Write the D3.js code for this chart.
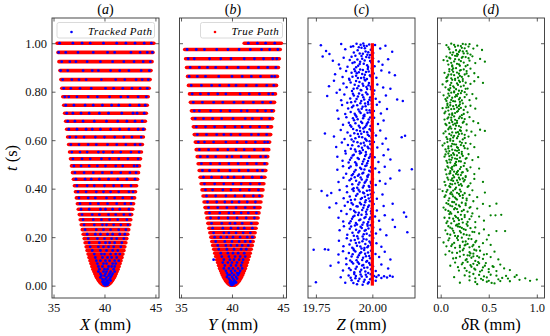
<!DOCTYPE html>
<html>
<head>
<meta charset="utf-8">
<script src="https://cdn.jsdelivr.net/npm/d3@7"></script>
<style>
body { margin: 0; background: #fff; }
svg text { font-family: "Liberation Serif", "Times New Roman", Times, serif; }
</style>
</head>
<body>
<div id="chart"></div>
<script>

// ---- data ----

var tTicks = [0, 0.2, 0.4, 0.6, 0.8, 1.0];
var xyTicks = [35, 40, 45];
var zTicks = [19.75, 20.00];
var dTicks = [0.0, 0.5, 1.0];

// (a) true path: one red stroke per turn of the spiral (t, X min, X max)
var aBandT = [1.000,.962,.924,.887,.850,.814,.779,.744,.711,.678,.645,.613,.582,.551,.523,.494,.466,.439,.412,.387,
	.362,.338,.315,.293,.272,.251,.231,.212,.194,.177,.160,.145,.130,.116,.103,.091,.079,.068,.058,.049,
	.041,.034,.027,.021,.016,.012,.008,.004,.001];
var aBandLo = [35.35,35.44,35.53,35.63,35.72,35.81,35.91,36.00,36.09,36.19,36.29,36.38,36.48,36.57,36.66,36.76,36.86,36.95,37.05,37.15,
	37.24,37.34,37.43,37.53,37.62,37.72,37.82,37.91,38.01,38.10,38.20,38.29,38.39,38.48,38.58,38.67,38.76,38.86,38.96,39.05,
	39.14,39.22,39.32,39.41,39.50,39.58,39.68,39.80,39.95];
var aBandHi = [44.85,44.76,44.67,44.57,44.48,44.39,44.29,44.20,44.11,44.01,43.91,43.82,43.72,43.63,43.54,43.44,43.34,43.25,43.15,43.05,
	42.96,42.86,42.77,42.67,42.58,42.48,42.38,42.29,42.19,42.10,42.00,41.91,41.81,41.72,41.62,41.53,41.44,41.34,41.24,41.15,
	41.06,40.98,40.88,40.79,40.70,40.62,40.52,40.40,40.25];
// (a) tracked points, X values sitting on each turn
var aBlueX = [
	[35.6,36.9,37.8,38.6,39.9,41.2,42.1,43.0,43.9,44.6],
	[35.5,36.2,37.4,38.9,40.3,41.0,42.6,43.5,44.2,44.7],
	[35.8,36.6,37.2,38.3,39.6,40.8,41.9,42.9,43.8,44.5],
	[35.7,36.4,37.9,38.8,39.4,40.6,41.5,42.4,43.6,44.4],
	[35.9,36.8,37.5,38.2,39.7,41.1,42.0,43.1,43.7,44.3],
	[36.0,36.7,37.6,38.7,40.1,40.9,41.8,42.7,43.5,44.2],
	[36.1,36.5,37.3,38.4,39.3,40.5,41.6,42.3,43.3,44.1],
	[36.2,37.0,38.1,38.9,39.8,40.7,41.4,42.5,43.4,44.0],
	[36.3,36.9,37.7,38.5,39.5,40.4,41.7,42.8,43.2,43.9],
	[36.4,37.1,37.9,39.0,40.2,41.3,42.2,43.0,43.7],
	[36.5,37.3,38.2,38.8,39.6,40.6,41.5,42.4,43.3,43.8],
	[36.6,37.2,38.0,39.1,40.0,41.0,41.9,42.7,43.6],
	[36.7,37.5,38.4,39.2,40.3,41.2,42.1,43.0,43.5],
	[36.8,37.6,38.3,39.4,39.9,40.8,41.6,42.6,43.4],
	[36.9,37.8,38.6,39.7,40.5,41.4,42.3,43.3],
	[37.0,37.7,38.5,39.3,40.1,41.1,41.8,42.9,43.2],
	[37.1,38.0,38.9,39.8,40.7,41.6,42.5,43.1],
	[37.2,38.1,38.7,39.5,40.4,41.3,42.2,43.0],
	[37.3,38.3,39.0,40.0,40.9,41.7,42.6],
	[37.4,38.2,39.2,39.9,40.6,41.4,42.4,42.8],
	[37.5,38.4,39.1,40.2,41.0,41.8,42.7],
	[37.6,38.6,39.4,40.3,41.2,42.0,42.6],
	[37.7,38.5,39.6,40.1,40.8,41.5,42.4],
	[37.8,38.8,39.5,40.4,41.1,41.9,42.5],
	[37.9,38.9,39.7,40.5,41.3,42.2],
	[38.0,39.0,39.8,40.2,40.9,41.6,42.3],
	[38.1,39.2,39.9,40.6,41.4,42.1],
	[38.3,39.1,39.6,40.3,40.8,41.5,42.0],
	[38.4,39.3,40.0,40.7,41.2,41.9],
	[38.5,39.5,40.1,40.5,41.0,41.7],
	[38.6,39.4,39.9,40.4,40.9,41.6],
	[38.8,39.6,40.2,40.8,41.3],
	[39.0,39.7,40.0,40.6,41.1,41.5],
	[39.1,39.8,40.3,40.7,41.2],
	[39.2,39.6,40.1,40.5,41.0,41.4],
	[39.3,39.9,40.2,40.8,41.1],
	[39.4,39.8,40.4,40.7,41.0],
	[39.5,40.0,40.3,40.9],
	[39.4,39.9,40.2,40.6,41.0],
	[39.6,40.1,40.5,40.8],
	[39.7,40.0,40.4,40.7],
	[39.6,40.2,40.6],
	[39.8,40.1,40.5],
	[39.9,40.3,40.6],
	[39.8,40.2],
	[40.0,40.4],
	[39.9,40.2],
	[40.0,40.3],
	[40.1]
];

// (b) true path (t, Y min, Y max); the top stroke is only a partial turn
var bBandT = [1.000,.974,.936,.900,.863,.826,.791,.756,.721,.689,.655,.623,.592,.561,.532,.503,.475,.447,.420,.395,.370,
	.345,.322,.300,.279,.257,.237,.218,.200,.182,.166,.150,.134,.120,.107,.095,.083,.071,.061,.052,.044,
	.036,.029,.023,.018,.013,.009,.005,.002];
var bBandLo = [41.20,35.36,35.45,35.54,35.64,35.73,35.83,35.92,36.02,36.11,36.21,36.30,36.40,36.49,36.59,36.68,36.78,36.87,36.97,37.06,37.16,
	37.26,37.35,37.45,37.54,37.64,37.74,37.83,37.93,38.02,38.11,38.21,38.31,38.40,38.50,38.59,38.68,38.78,38.88,38.97,39.05,
	39.15,39.24,39.33,39.41,39.51,39.60,39.71,39.84];
var bBandHi = [44.85,44.74,44.65,44.56,44.46,44.37,44.27,44.18,44.08,43.99,43.89,43.80,43.70,43.61,43.51,43.42,43.32,43.23,43.13,43.04,42.94,
	42.84,42.75,42.65,42.56,42.46,42.36,42.27,42.17,42.08,41.99,41.89,41.79,41.70,41.60,41.51,41.42,41.32,41.22,41.13,41.05,
	40.95,40.86,40.77,40.69,40.59,40.50,40.39,40.26];
var bBlueX = [
	[41.6,42.5,43.3,44.2],
	[35.6,36.5,37.3,38.5,39.6,40.7,41.8,42.9,43.7,44.5],
	[35.7,36.3,37.8,38.9,39.9,41.2,42.2,43.1,44.0,44.4],
	[35.9,36.8,37.6,38.4,39.5,40.6,41.6,42.6,43.5,44.3],
	[35.8,36.6,37.4,38.7,40.0,41.0,41.9,42.8,43.9,44.2],
	[36.0,37.0,38.0,38.8,39.7,40.4,41.4,42.4,43.4,44.1],
	[36.1,36.9,37.7,38.6,39.4,40.8,41.7,42.7,43.6,44.0],
	[36.2,37.1,38.2,39.1,40.2,41.1,42.1,43.0,43.8],
	[36.3,36.8,37.9,38.9,39.8,40.9,41.5,42.5,43.3,43.9],
	[36.4,37.2,38.1,39.0,40.1,41.3,42.0,42.9,43.7],
	[36.5,37.4,38.3,39.3,40.3,41.0,41.8,42.7,43.5],
	[36.6,37.5,38.5,39.2,39.9,40.8,41.9,42.6,43.4],
	[36.7,37.3,38.2,39.4,40.5,41.4,42.3,43.2,43.5],
	[36.8,37.7,38.6,39.6,40.4,41.2,42.2,43.1],
	[36.9,37.6,38.4,39.5,40.0,40.9,41.7,42.8,43.3],
	[37.0,37.9,38.8,39.7,40.6,41.5,42.4,43.2],
	[37.1,37.8,38.7,39.8,40.7,41.6,42.5,43.0],
	[37.2,38.0,39.0,39.6,40.2,41.1,42.0,42.9],
	[37.3,38.3,39.2,40.1,40.9,41.8,42.7],
	[37.4,38.1,39.1,39.9,40.8,41.7,42.6],
	[37.5,38.4,39.4,40.3,41.2,42.1,42.7],
	[37.6,38.5,39.3,40.0,40.7,41.5,42.3],
	[37.7,38.6,39.5,40.4,41.3,42.2],
	[37.8,38.8,39.7,40.2,40.9,41.6,42.4],
	[37.9,38.7,39.6,40.5,41.4,42.2],
	[38.0,39.0,39.8,40.3,41.0,41.9],
	[38.1,39.1,39.9,40.6,41.2,42.0],
	[38.2,39.2,39.7,40.4,41.1,41.8],
	[38.3,38.9,39.5,40.1,40.8,41.5,42.0],
	[38.4,39.3,40.0,40.7,41.3,41.8],
	[38.6,39.4,39.9,40.5,41.0,41.6],
	[38.7,39.5,40.2,40.9,41.4],
	[38.9,39.6,40.1,40.6,41.2],
	[39.0,39.7,40.3,40.8,41.3],
	[38.2,39.2,39.8,40.2,40.7,41.1],
	[39.1,39.6,40.0,40.5,41.0],
	[39.3,39.9,40.4,40.9],
	[39.2,39.7,40.1,40.6,41.0],
	[39.4,39.9,40.3,40.8],
	[39.5,40.0,40.5,40.7],
	[39.6,39.8,40.2,40.6],
	[39.5,40.0,40.4],
	[39.7,40.1,40.5],
	[39.8,40.2],
	[39.9,40.3],
	[39.8,40.1,40.4],
	[40.0,40.2],
	[39.9,40.1],
	[40.0]
];

// (c) true Z is constant, tracked Z scatter as [Z, t]
var cTrueZ = [20.0, 20.0];
var cTrueT = [0.0, 1.0];
var cPts = [
	[19.772,0.992],[19.795,0.968],[19.81,0.955],[19.862,0.997],[19.88,0.975],[19.905,0.985],[19.918,0.962],[19.93,0.998],[19.944,0.958],[19.952,0.981],[19.963,0.99],[19.97,0.966],[19.978,0.952],[19.986,0.995],[19.993,0.973],[19.999,0.984],[20.004,0.96],[20.012,0.993],[20.035,0.978],[20.058,0.99],[20.088,0.965],
	[19.78,0.945],[19.825,0.928],[19.852,0.912],[19.873,0.94],[19.89,0.903],[19.9,0.931],[19.912,0.918],[19.925,0.948],[19.937,0.907],[19.946,0.924],[19.955,0.936],[19.962,0.915],[19.973,0.943],[19.981,0.902],[19.99,0.927],[19.997,0.918],[20.003,0.938],[20.01,0.905],[20.028,0.925],[20.045,0.911],[20.07,0.934],
	[19.835,0.872],[19.858,0.896],[19.868,0.861],[19.884,0.885],[19.897,0.853],[19.908,0.878],[19.92,0.893],[19.928,0.866],[19.94,0.88],[19.95,0.857],[19.958,0.889],[19.967,0.87],[19.976,0.852],[19.984,0.883],[19.992,0.864],[19.998,0.897],[20.006,0.875],[20.018,0.858],[20.04,0.887],[20.075,0.879],[20.1,0.868],
	[19.808,0.822],[19.83,0.845],[19.856,0.808],[19.872,0.834],[19.886,0.818],[19.899,0.848],[19.91,0.803],[19.922,0.829],[19.933,0.814],[19.943,0.84],[19.951,0.806],[19.96,0.825],[19.969,0.846],[19.977,0.811],[19.985,0.836],[19.993,0.82],[20.0,0.842],[20.009,0.805],[20.022,0.83],[20.048,0.817],[20.08,0.812],
	[19.8,0.782],[19.842,0.796],[19.862,0.765],[19.876,0.788],[19.889,0.754],[19.902,0.772],[19.914,0.792],[19.924,0.76],[19.936,0.78],[19.947,0.752],[19.956,0.786],[19.964,0.768],[19.972,0.797],[19.981,0.757],[19.99,0.776],[19.996,0.763],[20.005,0.79],[20.015,0.771],[20.032,0.758],[20.06,0.784],[20.11,0.768],[20.135,0.762],
	[19.845,0.722],[19.866,0.745],[19.88,0.708],[19.893,0.731],[19.904,0.716],[19.916,0.742],[19.926,0.703],[19.938,0.727],[19.948,0.712],[19.957,0.738],[19.965,0.705],[19.974,0.724],[19.982,0.748],[19.991,0.714],[19.998,0.735],[20.007,0.72],[20.02,0.746],[20.038,0.71],[20.065,0.729],
	[19.85,0.688],[19.87,0.664],[19.885,0.695],[19.896,0.672],[19.907,0.655],[19.919,0.682],[19.93,0.697],[19.94,0.66],[19.95,0.676],[19.959,0.69],[19.967,0.653],[19.976,0.668],[19.984,0.685],[19.992,0.658],[19.999,0.678],[20.008,0.693],[20.025,0.667],[20.05,0.681],
	[19.79,0.628],[19.83,0.615],[19.86,0.642],[19.877,0.605],[19.89,0.632],[19.903,0.618],[19.915,0.646],[19.925,0.608],[19.936,0.625],[19.946,0.638],[19.955,0.612],[19.963,0.635],[19.972,0.602],[19.98,0.622],[19.988,0.645],[19.996,0.61],[20.004,0.63],[20.016,0.619],[20.035,0.64],[20.06,0.607],[20.13,0.612],[20.145,0.618],
	[19.84,0.572],[19.865,0.59],[19.88,0.555],[19.892,0.58],[19.905,0.565],[19.917,0.595],[19.927,0.553],[19.939,0.575],[19.949,0.586],[19.958,0.56],[19.966,0.578],[19.975,0.598],[19.983,0.567],[19.991,0.583],[19.998,0.557],[20.007,0.592],[20.022,0.57],[20.045,0.585],[20.07,0.562],
	[19.845,0.532],[19.868,0.515],[19.882,0.545],[19.895,0.508],[19.907,0.528],[19.918,0.54],[19.929,0.503],[19.94,0.522],[19.95,0.548],[19.959,0.512],[19.968,0.535],[19.977,0.505],[19.985,0.526],[19.993,0.542],[20.0,0.518],[20.01,0.53],[20.027,0.51],[20.05,0.538],[20.08,0.52],
	[19.845,0.478],[19.87,0.492],[19.884,0.462],[19.897,0.485],[19.909,0.455],[19.92,0.47],[19.93,0.497],[19.941,0.458],[19.951,0.481],[19.96,0.466],[19.969,0.494],[19.978,0.452],[19.986,0.474],[19.994,0.488],[20.002,0.46],[20.013,0.483],[20.03,0.468],[20.055,0.49],[20.12,0.475],[20.175,0.48],
	[19.85,0.428],[19.872,0.445],[19.887,0.41],[19.899,0.435],[19.911,0.418],[19.922,0.447],[19.933,0.404],[19.943,0.425],[19.953,0.438],[19.962,0.412],[19.97,0.43],[19.979,0.448],[19.987,0.407],[19.995,0.422],[20.003,0.44],[20.015,0.415],[20.033,0.432],[20.058,0.42],[20.08,0.442],
	[19.775,0.39],[19.8,0.372],[19.818,0.382],[19.855,0.395],[19.873,0.36],[19.888,0.385],[19.9,0.368],[19.912,0.398],[19.923,0.355],[19.934,0.378],[19.944,0.388],[19.954,0.362],[19.963,0.381],[19.971,0.352],[19.98,0.374],[19.988,0.393],[19.996,0.365],[20.005,0.384],[20.02,0.358],[20.045,0.376],
	[19.81,0.322],[19.84,0.34],[19.862,0.308],[19.878,0.33],[19.891,0.345],[19.903,0.315],[19.914,0.335],[19.925,0.303],[19.935,0.326],[19.945,0.342],[19.955,0.312],[19.964,0.332],[19.972,0.305],[19.981,0.324],[19.989,0.348],[19.997,0.318],[20.006,0.337],[20.02,0.31],[20.05,0.328],[20.09,0.338],[20.14,0.302],
	[19.85,0.28],[19.871,0.265],[19.886,0.295],[19.898,0.257],[19.91,0.276],[19.921,0.288],[19.932,0.252],[19.942,0.27],[19.952,0.292],[19.961,0.26],[19.97,0.283],[19.978,0.254],[19.987,0.274],[19.995,0.298],[20.003,0.262],[20.012,0.285],[20.03,0.268],[20.055,0.29],[20.09,0.272],[20.15,0.284],
	[19.855,0.228],[19.874,0.245],[19.889,0.21],[19.9,0.235],[19.912,0.218],[19.923,0.248],[19.933,0.204],[19.943,0.225],[19.953,0.238],[19.962,0.212],[19.971,0.23],[19.979,0.247],[19.988,0.207],[19.996,0.222],[20.004,0.24],[20.016,0.215],[20.035,0.232],[20.062,0.208],[20.1,0.242],[20.155,0.22],
	[19.74,0.148],[19.79,0.15],[19.805,0.148],[19.852,0.185],[19.872,0.162],[19.887,0.195],[19.899,0.17],[19.911,0.156],[19.922,0.188],[19.932,0.165],[19.942,0.178],[19.952,0.153],[19.961,0.192],[19.969,0.172],[19.978,0.158],[19.987,0.182],[19.995,0.168],[20.004,0.197],[20.018,0.175],[20.04,0.16],
	[19.85,0.128],[19.87,0.142],[19.884,0.112],[19.896,0.135],[19.908,0.12],[19.919,0.146],[19.93,0.105],[19.94,0.125],[19.95,0.138],[19.959,0.115],[19.968,0.132],[19.977,0.102],[19.986,0.122],[19.994,0.144],[20.002,0.11],[20.014,0.13],[20.03,0.118],[20.055,0.14],[20.08,0.108],
	[19.815,0.082],[19.85,0.095],[19.87,0.062],[19.885,0.088],[19.897,0.072],[19.909,0.098],[19.92,0.055],[19.931,0.078],[19.941,0.09],[19.951,0.066],[19.96,0.085],[19.969,0.058],[19.978,0.075],[19.986,0.093],[19.994,0.068],[20.003,0.08],[20.015,0.06],[20.04,0.087],[20.07,0.071],
	[19.75,0.014],[19.86,0.035],[19.88,0.012],[19.895,0.042],[19.908,0.022],[19.92,0.048],[19.932,0.006],[19.943,0.028],[19.953,0.038],[19.962,0.016],[19.971,0.045],[19.98,0.009],[19.99,0.026],[19.998,0.032],[20.008,0.04],[20.018,0.036],[20.028,0.043],[20.04,0.031],[20.052,0.039],[20.065,0.034],[20.078,0.041],[20.09,0.037],[20.015,0.02],[19.925,0.03],
	// denser core just left of the true Z
	[19.915,0.987],[19.935,0.971],[19.948,0.994],[19.958,0.957],[19.967,0.979],[19.975,0.988],[19.982,0.963],[19.99,0.951],[19.94,0.983],[19.96,0.999],
	[19.908,0.944],[19.921,0.921],[19.934,0.933],[19.944,0.914],[19.952,0.947],[19.966,0.929],[19.977,0.909],[19.986,0.941],[19.995,0.922],[19.928,0.901],
	[19.912,0.862],[19.924,0.884],[19.936,0.856],[19.946,0.892],[19.955,0.873],[19.963,0.859],[19.972,0.881],[19.98,0.894],[19.989,0.868],[19.931,0.876],
	[19.904,0.838],[19.917,0.812],[19.928,0.844],[19.939,0.823],[19.948,0.807],[19.957,0.833],[19.966,0.849],[19.974,0.819],[19.983,0.827],[19.994,0.81],
	[19.906,0.756],[19.918,0.784],[19.93,0.77],[19.941,0.793],[19.951,0.762],[19.96,0.777],[19.968,0.751],[19.978,0.789],[19.987,0.767],[19.999,0.781],
	[19.91,0.736],[19.922,0.709],[19.933,0.744],[19.943,0.718],[19.953,0.73],[19.961,0.701],[19.97,0.74],[19.979,0.713],[19.988,0.723],[19.997,0.749],
	[19.902,0.662],[19.914,0.69],[19.925,0.67],[19.935,0.686],[19.945,0.652],[19.955,0.671],[19.964,0.699],[19.973,0.661],[19.981,0.674],[19.99,0.694],
	[19.908,0.603],[19.92,0.629],[19.931,0.641],[19.941,0.614],[19.951,0.627],[19.96,0.648],[19.968,0.606],[19.977,0.633],[19.986,0.617],[19.994,0.639],
	[19.911,0.579],[19.923,0.562],[19.934,0.591],[19.944,0.554],[19.954,0.569],[19.962,0.589],[19.971,0.551],[19.979,0.573],[19.988,0.596],[19.996,0.564],
	[19.901,0.519],[19.913,0.537],[19.924,0.509],[19.935,0.527],[19.945,0.545],[19.955,0.502],[19.964,0.521],[19.972,0.541],[19.981,0.514],[19.99,0.533],
	[19.904,0.491],[19.915,0.461],[19.926,0.477],[19.936,0.453],[19.946,0.486],[19.956,0.463],[19.965,0.479],[19.974,0.496],[19.983,0.457],[19.992,0.471],
	[19.906,0.441],[19.917,0.402],[19.928,0.433],[19.938,0.417],[19.948,0.446],[19.958,0.405],[19.966,0.424],[19.975,0.437],[19.984,0.411],[19.993,0.429],
	[19.905,0.353],[19.917,0.39],[19.928,0.371],[19.939,0.396],[19.949,0.357],[19.959,0.384],[19.967,0.367],[19.976,0.391],[19.984,0.359],[19.993,0.377],
	[19.908,0.341],[19.919,0.309],[19.93,0.327],[19.94,0.301],[19.95,0.336],[19.96,0.321],[19.968,0.344],[19.977,0.314],[19.985,0.331],[19.994,0.307],
	[19.904,0.266],[19.915,0.284],[19.927,0.258],[19.937,0.291],[19.947,0.273],[19.956,0.251],[19.965,0.279],[19.974,0.294],[19.982,0.263],[19.991,0.281],
	[19.906,0.244],[19.918,0.206],[19.928,0.231],[19.938,0.219],[19.948,0.243],[19.957,0.203],[19.966,0.226],[19.975,0.214],[19.983,0.236],[19.992,0.249],
	[19.905,0.186],[19.916,0.152],[19.927,0.176],[19.937,0.194],[19.947,0.161],[19.956,0.183],[19.965,0.155],[19.974,0.19],[19.982,0.164],[19.991,0.177],
	[19.902,0.104],[19.913,0.129],[19.925,0.141],[19.935,0.117],[19.945,0.134],[19.955,0.106],[19.964,0.147],[19.972,0.121],[19.981,0.137],[19.99,0.113],
	[19.904,0.064],[19.915,0.091],[19.926,0.07],[19.936,0.096],[19.946,0.057],[19.955,0.083],[19.964,0.074],[19.973,0.099],[19.982,0.052],[19.99,0.086],
	[19.904,0.033],[19.916,0.011],[19.927,0.04],[19.938,0.019],[19.948,0.046],[19.957,0.004],[19.966,0.024],[19.975,0.037],[19.984,0.014],[19.993,0.047]
];

// (d) position error scatter as [dR, t]
var dPts = [
	[0.06,0.992],[0.09,0.975],[0.11,0.998],[0.13,0.962],[0.15,0.985],[0.17,0.956],[0.18,0.99],[0.2,0.97],[0.22,0.981],[0.24,0.958],[0.26,0.995],[0.27,0.967],[0.29,0.986],[0.31,0.953],[0.34,0.978],[0.38,0.99],[0.43,0.972],[0.12,0.952],[0.19,0.964],[0.23,0.997],
	[0.03,0.93],[0.06,0.945],[0.08,0.912],[0.1,0.937],[0.12,0.904],[0.14,0.925],[0.15,0.948],[0.17,0.915],[0.19,0.932],[0.2,0.907],[0.22,0.94],[0.24,0.92],[0.26,0.943],[0.28,0.91],[0.3,0.928],[0.33,0.946],[0.36,0.918],[0.41,0.935],[0.46,0.924],[0.11,0.919],
	[0.04,0.878],[0.07,0.862],[0.09,0.893],[0.11,0.855],[0.13,0.882],[0.14,0.868],[0.16,0.897],[0.18,0.858],[0.19,0.874],[0.21,0.889],[0.23,0.852],[0.25,0.871],[0.27,0.885],[0.29,0.864],[0.31,0.895],[0.35,0.876],[0.39,0.86],[0.12,0.89],[0.08,0.87],[0.2,0.865],
	[0.02,0.83],[0.05,0.818],[0.07,0.845],[0.09,0.806],[0.11,0.836],[0.13,0.822],[0.15,0.848],[0.16,0.81],[0.18,0.828],[0.2,0.84],[0.22,0.803],[0.24,0.825],[0.26,0.837],[0.28,0.813],[0.31,0.832],[0.35,0.843],[0.44,0.836],[0.1,0.815],[0.14,0.801],[0.19,0.846],
	[0.03,0.785],[0.06,0.762],[0.08,0.792],[0.1,0.755],[0.12,0.775],[0.14,0.797],[0.15,0.76],[0.17,0.782],[0.19,0.768],[0.21,0.794],[0.23,0.752],[0.25,0.778],[0.27,0.788],[0.3,0.765],[0.33,0.79],[0.37,0.772],[0.11,0.766],[0.16,0.786],[0.07,0.775],[0.2,0.758],
	[0.02,0.732],[0.05,0.718],[0.07,0.745],[0.09,0.706],[0.11,0.728],[0.13,0.74],[0.15,0.712],[0.17,0.735],[0.18,0.72],[0.2,0.748],[0.22,0.703],[0.24,0.725],[0.26,0.738],[0.28,0.715],[0.31,0.742],[0.36,0.73],[0.12,0.71],[0.08,0.736],[0.16,0.745],[0.19,0.728],
	[0.04,0.685],[0.06,0.662],[0.08,0.694],[0.1,0.656],[0.12,0.675],[0.14,0.698],[0.16,0.66],[0.17,0.68],[0.19,0.69],[0.21,0.653],[0.23,0.672],[0.25,0.687],[0.27,0.665],[0.3,0.695],[0.34,0.678],[0.39,0.67],[0.11,0.683],[0.15,0.668],[0.09,0.671],[0.2,0.697],
	[0.03,0.628],[0.06,0.612],[0.08,0.645],[0.1,0.605],[0.12,0.632],[0.14,0.618],[0.15,0.647],[0.17,0.608],[0.19,0.625],[0.21,0.638],[0.23,0.603],[0.25,0.622],[0.27,0.64],[0.29,0.615],[0.32,0.635],[0.36,0.62],[0.41,0.643],[0.46,0.638],[0.11,0.62],[0.18,0.633],
	[0.02,0.578],[0.05,0.562],[0.07,0.592],[0.09,0.555],[0.11,0.575],[0.13,0.597],[0.15,0.558],[0.16,0.582],[0.18,0.568],[0.2,0.594],[0.22,0.552],[0.24,0.576],[0.26,0.588],[0.28,0.565],[0.31,0.585],[0.35,0.571],[0.12,0.585],[0.08,0.566],[0.17,0.556],[0.21,0.58],
	[0.04,0.532],[0.06,0.515],[0.08,0.545],[0.1,0.508],[0.12,0.528],[0.14,0.54],[0.15,0.503],[0.17,0.522],[0.19,0.548],[0.21,0.512],[0.23,0.535],[0.25,0.505],[0.27,0.526],[0.29,0.542],[0.33,0.518],[0.39,0.53],[0.11,0.538],[0.16,0.51],[0.2,0.528],[0.09,0.52],
	[0.05,0.478],[0.07,0.492],[0.09,0.462],[0.11,0.485],[0.13,0.455],[0.14,0.47],[0.16,0.497],[0.18,0.458],[0.2,0.481],[0.22,0.466],[0.24,0.494],[0.26,0.452],[0.28,0.474],[0.31,0.488],[0.35,0.46],[0.4,0.483],[0.12,0.49],[0.17,0.468],[0.1,0.472],[0.21,0.456],
	[0.04,0.428],[0.07,0.445],[0.09,0.41],[0.11,0.435],[0.12,0.418],[0.14,0.447],[0.16,0.404],[0.18,0.425],[0.2,0.438],[0.22,0.412],[0.24,0.43],[0.26,0.448],[0.28,0.407],[0.31,0.422],[0.35,0.44],[0.44,0.428],[0.13,0.432],[0.19,0.415],[0.1,0.42],[0.23,0.442],
	[0.02,0.39],[0.05,0.372],[0.07,0.395],[0.09,0.36],[0.11,0.385],[0.13,0.368],[0.15,0.398],[0.17,0.355],[0.19,0.378],[0.21,0.388],[0.23,0.362],[0.25,0.381],[0.27,0.352],[0.3,0.374],[0.33,0.393],[0.38,0.365],[0.46,0.384],[0.12,0.376],[0.16,0.358],[0.2,0.37],
	[0.03,0.322],[0.06,0.34],[0.08,0.308],[0.1,0.33],[0.12,0.345],[0.14,0.315],[0.16,0.335],[0.18,0.303],[0.2,0.326],[0.22,0.342],[0.24,0.312],[0.26,0.332],[0.28,0.305],[0.31,0.324],[0.34,0.348],[0.38,0.318],[0.44,0.337],[0.51,0.328],[0.58,0.338],[0.15,0.32],
	[0.04,0.28],[0.07,0.265],[0.09,0.295],[0.11,0.257],[0.13,0.276],[0.15,0.288],[0.17,0.252],[0.19,0.27],[0.21,0.292],[0.23,0.26],[0.25,0.283],[0.27,0.254],[0.3,0.274],[0.33,0.298],[0.36,0.262],[0.4,0.285],[0.45,0.268],[0.52,0.29],[0.57,0.29],[0.63,0.292],[0.18,0.278],
	[0.05,0.228],[0.08,0.245],[0.1,0.21],[0.12,0.235],[0.14,0.218],[0.16,0.248],[0.18,0.204],[0.2,0.225],[0.22,0.238],[0.24,0.212],[0.26,0.23],[0.28,0.247],[0.3,0.207],[0.33,0.222],[0.36,0.24],[0.4,0.215],[0.45,0.232],[0.5,0.208],[0.58,0.225],[0.67,0.225],[0.2,0.242],
	[0.03,0.178],[0.06,0.162],[0.09,0.195],[0.12,0.17],[0.15,0.156],[0.18,0.188],[0.2,0.165],[0.22,0.198],[0.24,0.153],[0.26,0.182],[0.28,0.172],[0.3,0.158],[0.32,0.192],[0.34,0.168],[0.37,0.185],[0.4,0.16],[0.44,0.175],[0.48,0.19],[0.52,0.168],[0.25,0.166],
	[0.05,0.128],[0.09,0.142],[0.13,0.112],[0.17,0.135],[0.2,0.12],[0.23,0.146],[0.26,0.105],[0.28,0.125],[0.3,0.138],[0.32,0.115],[0.34,0.132],[0.36,0.102],[0.38,0.122],[0.41,0.144],[0.44,0.11],[0.48,0.13],[0.52,0.118],[0.56,0.14],[0.6,0.108],[0.3,0.124],[0.35,0.148],
	[0.1,0.082],[0.15,0.095],[0.19,0.062],[0.22,0.088],[0.25,0.072],[0.28,0.098],[0.3,0.055],[0.32,0.078],[0.34,0.09],[0.36,0.066],[0.38,0.085],[0.41,0.058],[0.44,0.075],[0.47,0.093],[0.5,0.068],[0.54,0.08],[0.58,0.06],[0.62,0.087],[0.66,0.071],[0.72,0.064],[0.4,0.092],
	[0.14,0.035],[0.2,0.012],[0.25,0.042],[0.3,0.022],[0.34,0.048],[0.38,0.006],[0.42,0.028],[0.45,0.038],[0.48,0.016],[0.52,0.045],[0.56,0.009],[0.6,0.026],[0.64,0.032],[0.68,0.04],[0.72,0.018],[0.77,0.036],[0.82,0.024],[0.88,0.03],[0.93,0.02],[1.0,0.025],[0.36,0.03],[0.5,0.02],
	// denser core of the cloud
	[0.08,0.983],[0.1,0.961],[0.14,0.993],[0.16,0.971],[0.18,0.953],[0.21,0.988],[0.23,0.966],[0.25,0.979],[0.28,0.958],[0.3,0.996],
	[0.07,0.927],[0.09,0.94],[0.12,0.908],[0.15,0.934],[0.17,0.947],[0.19,0.913],[0.21,0.926],[0.23,0.944],[0.26,0.905],[0.29,0.938],
	[0.06,0.857],[0.09,0.884],[0.11,0.871],[0.13,0.896],[0.15,0.853],[0.17,0.879],[0.2,0.887],[0.22,0.861],[0.24,0.892],[0.27,0.875],
	[0.06,0.842],[0.08,0.809],[0.1,0.827],[0.12,0.849],[0.14,0.817],[0.17,0.834],[0.19,0.804],[0.21,0.821],[0.23,0.844],[0.26,0.812],
	[0.05,0.769],[0.07,0.751],[0.09,0.783],[0.11,0.796],[0.13,0.761],[0.15,0.779],[0.18,0.791],[0.2,0.774],[0.22,0.764],[0.25,0.798],
	[0.04,0.711],[0.06,0.734],[0.08,0.722],[0.1,0.744],[0.12,0.704],[0.14,0.729],[0.17,0.717],[0.19,0.741],[0.21,0.733],[0.24,0.708],
	[0.05,0.667],[0.07,0.689],[0.09,0.652],[0.11,0.693],[0.13,0.664],[0.15,0.684],[0.17,0.671],[0.19,0.658],[0.22,0.691],[0.24,0.676],
	[0.05,0.636],[0.07,0.604],[0.09,0.626],[0.11,0.648],[0.13,0.611],[0.16,0.631],[0.18,0.616],[0.2,0.641],[0.22,0.627],[0.25,0.609],
	[0.04,0.587],[0.06,0.553],[0.08,0.574],[0.1,0.598],[0.12,0.561],[0.14,0.583],[0.17,0.571],[0.19,0.559],[0.22,0.589],[0.25,0.567],
	[0.05,0.541],[0.07,0.507],[0.09,0.534],[0.11,0.519],[0.13,0.546],[0.15,0.524],[0.17,0.537],[0.19,0.513],[0.22,0.543],[0.26,0.523],
	[0.06,0.459],[0.08,0.487],[0.1,0.464],[0.12,0.479],[0.14,0.495],[0.16,0.461],[0.18,0.473],[0.21,0.489],[0.23,0.468],[0.27,0.481],
	[0.05,0.414],[0.08,0.437],[0.1,0.406],[0.12,0.442],[0.15,0.421],[0.17,0.434],[0.19,0.445],[0.21,0.419],[0.25,0.436],[0.29,0.411],
	[0.04,0.366],[0.06,0.387],[0.08,0.351],[0.1,0.379],[0.13,0.392],[0.15,0.363],[0.17,0.383],[0.2,0.396],[0.23,0.373],[0.27,0.359],
	[0.05,0.313],[0.08,0.336],[0.1,0.303],[0.12,0.327],[0.14,0.344],[0.17,0.316],[0.19,0.331],[0.22,0.307],[0.26,0.339],[0.3,0.321],
	[0.06,0.258],[0.09,0.279],[0.11,0.297],[0.14,0.266],[0.16,0.283],[0.19,0.255],[0.22,0.274],[0.25,0.291],[0.28,0.263],[0.32,0.286],
	[0.07,0.213],[0.1,0.239],[0.13,0.226],[0.15,0.205],[0.18,0.244],[0.21,0.219],[0.24,0.233],[0.27,0.209],[0.31,0.237],[0.35,0.221],
	[0.08,0.187],[0.11,0.163],[0.14,0.176],[0.17,0.196],[0.2,0.158],[0.23,0.181],[0.26,0.169],[0.29,0.193],[0.33,0.162],[0.36,0.179],
	[0.12,0.136],[0.16,0.114],[0.2,0.141],[0.24,0.127],[0.27,0.109],[0.31,0.133],[0.34,0.121],[0.37,0.145],[0.4,0.116],[0.45,0.128],
	[0.18,0.076],[0.23,0.094],[0.27,0.061],[0.31,0.084],[0.35,0.07],[0.39,0.097],[0.43,0.063],[0.46,0.082],[0.5,0.056],[0.55,0.077],
	[0.3,0.038],[0.36,0.015],[0.4,0.044],[0.44,0.023],[0.48,0.034],[0.53,0.011],[0.58,0.041],[0.62,0.019],[0.7,0.029],[0.79,0.043]
];

// ---- layout ----

var width = 550, height = 336;
var plotTop = 18, plotBottom = 298, plotW = 107;
var serif = "Liberation Serif";
var tickLen = 3.5;

var svg = d3.select("#chart").append("svg")
	.attr("width", width)
	.attr("height", height);

// shared time scale
var y = d3.scaleLinear()
	.domain([-0.051, 1.104])
	.range([plotBottom, plotTop]);

function makePanel(left, domain, ticks, fmt, showY){
	var x = d3.scaleLinear().domain(domain).range([left, left + plotW]);
	var g = svg.append("g");

	var clipId = "clip" + Math.round(left);
	svg.append("clipPath").attr("id", clipId)
		.append("rect")
		.attr("x", left).attr("y", plotTop)
		.attr("width", plotW).attr("height", plotBottom - plotTop);

	var marks = g.append("g").attr("clip-path", "url(#" + clipId + ")");
	var axes = g.append("g");

	// ticks point inward on all four sides
	axes.append("g")
		.attr("transform", "translate(0," + plotBottom + ")")
		.call(d3.axisBottom(x).tickValues(ticks).tickFormat(fmt).tickSize(-tickLen).tickSizeOuter(0).tickPadding(5));
	axes.append("g")
		.attr("transform", "translate(0," + plotTop + ")")
		.call(d3.axisTop(x).tickValues(ticks).tickFormat("").tickSize(-tickLen).tickSizeOuter(0));
	axes.append("g")
		.attr("transform", "translate(" + left + ",0)")
		.call(d3.axisLeft(y).tickValues(tTicks).tickFormat(showY ? d3.format(".2f") : "").tickSize(-tickLen).tickSizeOuter(0).tickPadding(5));
	axes.append("g")
		.attr("transform", "translate(" + (left + plotW) + ",0)")
		.call(d3.axisRight(y).tickValues(tTicks).tickFormat("").tickSize(-tickLen).tickSizeOuter(0));

	axes.selectAll(".domain").remove();
	axes.selectAll("g").attr("font-family", null);
	axes.selectAll(".tick line").attr("stroke", "#333").attr("stroke-width", 0.8);
	axes.selectAll("text")
		.attr("font-size", 12.5)
		.attr("fill", "#111");

	// frame
	axes.append("rect")
		.attr("x", left).attr("y", plotTop)
		.attr("width", plotW).attr("height", plotBottom - plotTop)
		.attr("fill", "none")
		.attr("stroke", "#333")
		.attr("stroke-width", 0.9);

	return { x: x, marks: marks, axes: axes, cx: left + plotW / 2 };
}

function title(p, letter){
	var t = svg.append("text")
		.attr("x", p.cx).attr("y", 14)
		.attr("font-size", 14)
		.style("text-anchor", "middle");
	t.append("tspan").text("(");
	t.append("tspan").attr("font-style", "italic").text(letter);
	t.append("tspan").text(")");
}

function xLabel(p, sym){
	var t = svg.append("text")
		.attr("x", p.cx).attr("y", 330)
		.attr("font-size", 16.5)
		.style("text-anchor", "middle");
	t.append("tspan").attr("font-style", "italic").text(sym);
	t.append("tspan").text(" (mm)");
	return t;
}

function drawBands(p, bt, lo, hi){
	p.marks.selectAll(null).data(bt).enter().append("line")
		.attr("x1", function(d, i){ return p.x(lo[i]); })
		.attr("x2", function(d, i){ return p.x(hi[i]); })
		.attr("y1", function(d){ return y(d); })
		.attr("y2", function(d){ return y(d); })
		.attr("stroke", "#ff0000")
		.attr("stroke-width", 3.6)
		.attr("stroke-linecap", "round");
}

function drawBandPoints(p, bt, rows, color){
	var pts = [];
	rows.forEach(function(row, i){
		row.forEach(function(v){ pts.push([v, bt[i]]); });
	});
	p.marks.selectAll(null).data(pts).enter().append("circle")
		.attr("cx", function(d){ return p.x(d[0]); })
		.attr("cy", function(d){ return y(d[1]); })
		.attr("r", 1.4)
		.attr("fill", color);
}

function drawScatter(p, pts, color, r){
	p.marks.selectAll(null).data(pts).enter().append("circle")
		.attr("cx", function(d){ return p.x(d[0]); })
		.attr("cy", function(d){ return y(d[1]); })
		.attr("r", r)
		.attr("fill", color);
}

function legend(x0, x1, color, label){
	var lg = svg.append("g");
	lg.append("rect")
		.attr("x", x0).attr("y", 22.5)
		.attr("width", x1 - x0).attr("height", 15.5)
		.attr("rx", 2)
		.attr("fill", "#fff").attr("fill-opacity", 0.85)
		.attr("stroke", "#d0d0d0").attr("stroke-width", 0.8);
	lg.append("circle")
		.attr("cx", x0 + 14.5).attr("cy", 32)
		.attr("r", 1.3)
		.attr("fill", color);
	lg.append("text")
		.attr("x", x0 + 31).attr("y", 35)
		.attr("font-style", "italic")
		.attr("font-size", 11)
		.attr("letter-spacing", 0.45)
		.text(label);
}

// ---- panels ----

var pa = makePanel(52, [34.85, 45.35], xyTicks, d3.format("d"), true);
var pb = makePanel(179.5, [34.85, 45.35], xyTicks, d3.format("d"), false);
var pc = makePanel(308, [19.715, 20.189], zTicks, d3.format(".2f"), false);
var pd = makePanel(437.5, [-0.033, 1.08], dTicks, d3.format(".1f"), false);

// (a) X against t
drawBands(pa, aBandT, aBandLo, aBandHi);
drawBandPoints(pa, aBandT, aBlueX, "#0000ff");

// (b) Y against t
drawBands(pb, bBandT, bBandLo, bBandHi);
drawBandPoints(pb, bBandT, bBlueX, "#0000ff");

// (c) Z against t, true path drawn over the tracked points
drawScatter(pc, cPts, "#0000ff", 1.25);
pc.marks.append("line")
	.attr("x1", pc.x(cTrueZ[0])).attr("y1", y(cTrueT[0]))
	.attr("x2", pc.x(cTrueZ[1])).attr("y2", y(cTrueT[1]))
	.attr("stroke", "#ff0000")
	.attr("stroke-width", 3.2);

// (d) error against t
drawScatter(pd, dPts, "#008000", 1.15);

legend(57, 154.5, "#0000ff", "Tracked Path");
legend(200.5, 282.5, "#ff0000", "True Path");

title(pa, "a");
title(pb, "b");
title(pc, "c");
title(pd, "d");

xLabel(pa, "X");
xLabel(pb, "Y");
xLabel(pc, "Z");
var dl = svg.append("text")
	.attr("x", pd.cx).attr("y", 330)
	.attr("font-size", 16.5)
	.style("text-anchor", "middle");
dl.append("tspan").attr("font-style", "italic").text("δ");
dl.append("tspan").text("R (mm)");

// y label
var yl = svg.append("text")
	.attr("transform", "translate(17," + ((plotTop + plotBottom) / 2) + ") rotate(-90)")
	.attr("font-size", 16.5)
	.style("text-anchor", "middle");
yl.append("tspan").attr("font-style", "italic").text("t");
yl.append("tspan").text(" (s)");

</script>
</body>
</html>
